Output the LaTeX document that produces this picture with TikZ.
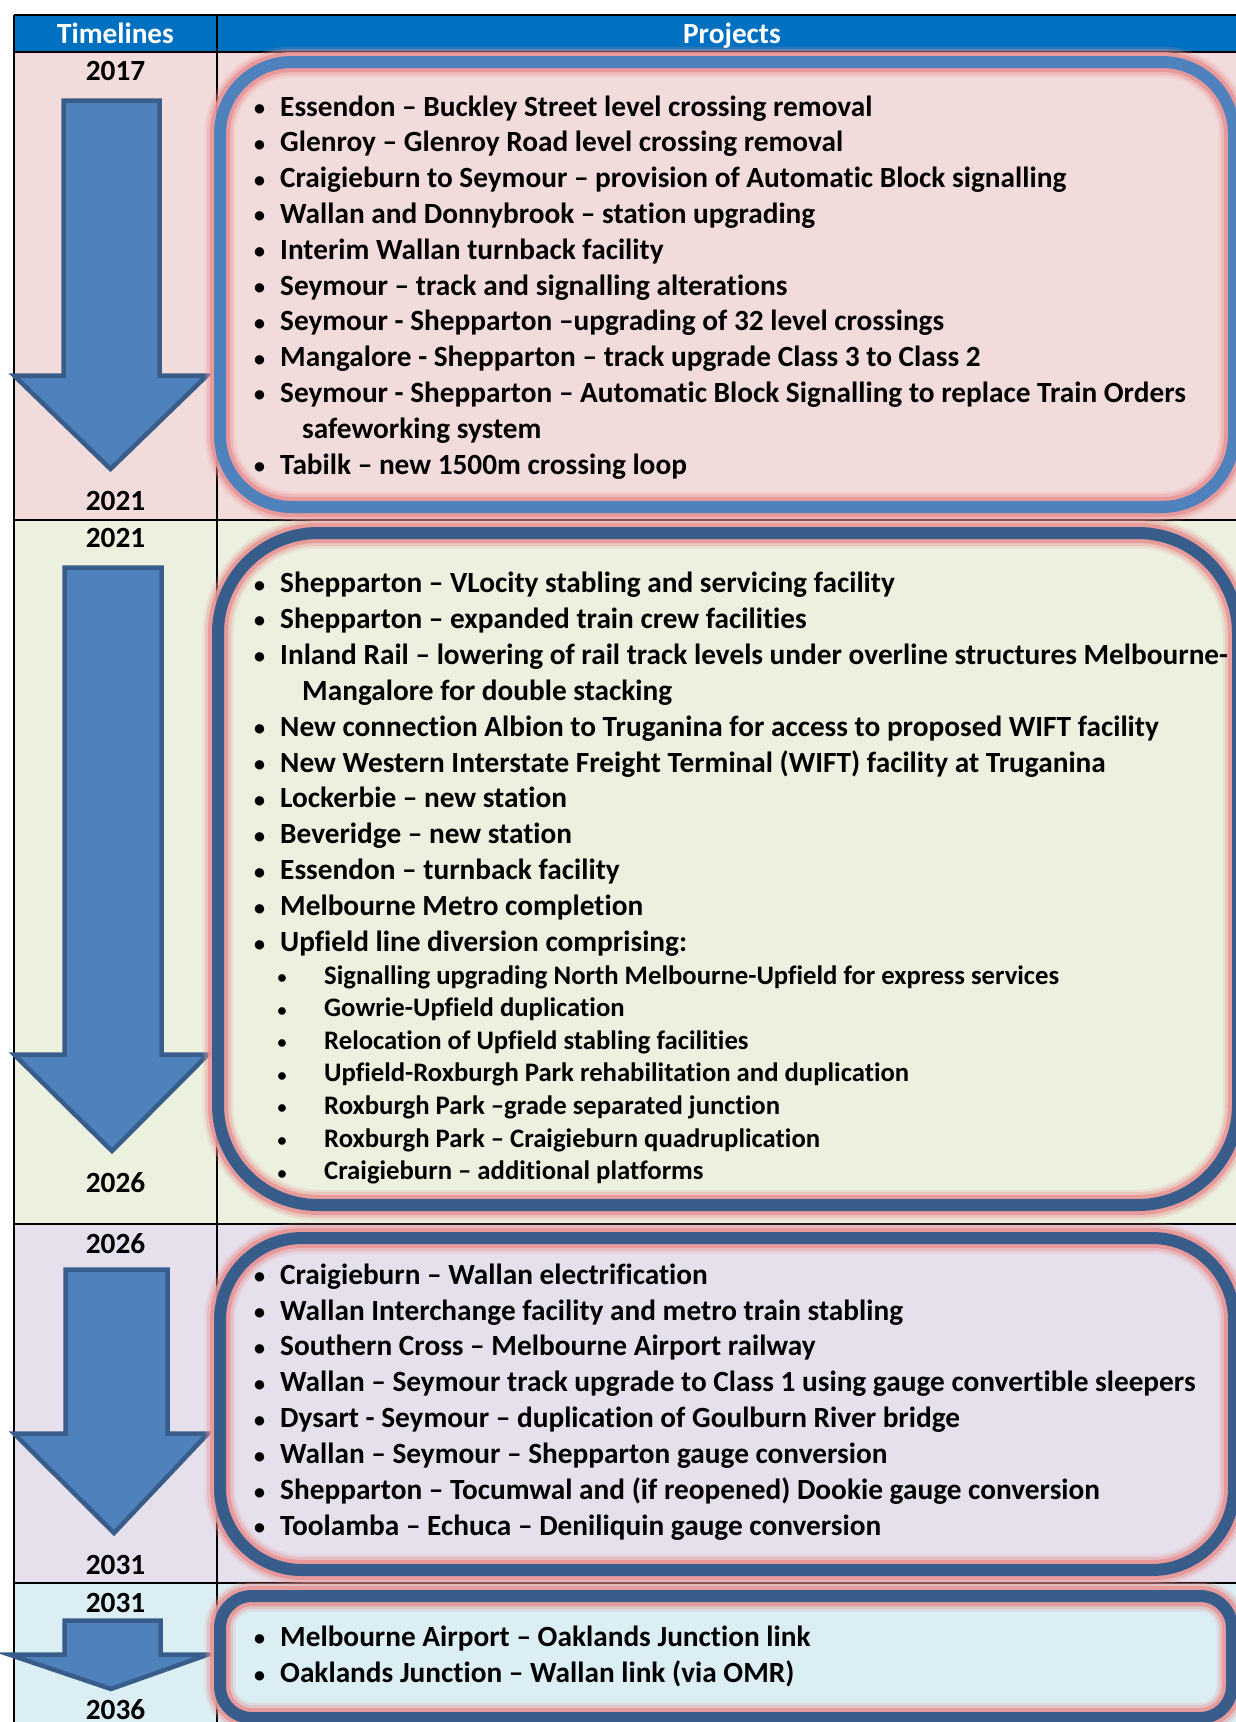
\documentclass[tikz,border=0pt]{standalone}
\usepackage{fontspec}
\setmainfont{Carlito}[Ligatures=NoCommon]
\definecolor{hdr}{HTML}{0070C0}
\definecolor{rowA}{HTML}{F2DCDB}
\definecolor{rowB}{HTML}{EBF1DE}
\definecolor{rowC}{HTML}{E5E0EC}
\definecolor{rowD}{HTML}{DBEEF3}
\definecolor{arrfill}{HTML}{4F81BD}
\definecolor{arredge}{HTML}{385D8A}
\definecolor{boxlight}{HTML}{4F81BD}
\definecolor{boxdark}{HTML}{385D8A}
\definecolor{glowpink}{RGB}{232,148,150}
\newcommand\mainfs{\fontsize{29.3}{35}\selectfont\bfseries}
\newcommand\subfs{\fontsize{26.7}{32}\selectfont\bfseries}
\newcommand\bulfs{\fontsize{22}{26}\selectfont\bfseries}
\newcommand\sbulfs{\fontsize{18}{22}\selectfont\bfseries}
\newcommand\bline[3]{\node[bul] (#1b) at (259.5,#2-0.5) {•}; \node[itm] (#1) at (280,#2) {#3};}
\newcommand\contline[3]{\node[itm] (#1) at (302,#2) {#3};}
\newcommand\sline[3]{\node[sbul] (#1b) at (282,#2-0.5) {•}; \node[sitm] (#1) at (324,#2) {#3};}
\newcommand\glowbox[2]{%
  \draw[glowpink, opacity=0.18, line width=31pt, rounded corners=#2] #1;
  \draw[glowpink, opacity=0.35, line width=26pt, rounded corners=#2] #1;
  \draw[glowpink, opacity=0.85, line width=20pt, rounded corners=#2] #1;}
\begin{document}
\begin{tikzpicture}[x=1pt,y=-1pt,
  bul/.style={anchor=base, inner sep=0pt, font=\bulfs},
  itm/.style={anchor=base west, inner sep=0pt, font=\mainfs},
  sbul/.style={anchor=base, inner sep=0pt, font=\sbulfs},
  sitm/.style={anchor=base west, inner sep=0pt, font=\subfs},
  yr/.style={anchor=base, inner sep=0pt, font=\mainfs},
  hd/.style={anchor=base, inner sep=0pt, font=\mainfs, text=white},
  arrowshape/.style={fill=arrfill, draw=arredge, line width=4.5pt, line join=miter},
  gridline/.style={draw=black, line width=2pt},
]
\useasboundingbox (0,0) rectangle (1235,1722);
\fill[white] (0,0) rectangle (1235,1722);
% rows
\fill[hdr] (14,15) rectangle (1250,52);
\fill[rowA] (14,52) rectangle (1250,520);
\fill[rowB] (14,520) rectangle (1250,1224);
\fill[rowC] (14,1224) rectangle (1250,1583);
\fill[rowD] (14,1583) rectangle (1250,1730);
% grid
\draw[gridline] (14,15) -- (1250,15);
\draw[gridline] (14,52) -- (1250,52);
\draw[gridline] (14,520) -- (1250,520);
\draw[gridline] (14,1224) -- (1250,1224);
\draw[gridline] (14,1583) -- (1250,1583);
\draw[gridline] (14,15) -- (14,1730);
\draw[gridline] (217,15) -- (217,1730);
% header
\node[hd] (thl) at (115.5,43) {Timelines};
\node[hd] (thp) at (732,43) {Projects};
% years
\node[yr] (y1a) at (115.5,80) {2017};
\node[yr] (y1b) at (115.5,510) {2021};
\node[yr] (y2a) at (115.5,547) {2021};
\node[yr] (y2b) at (115.5,1192) {2026};
\node[yr] (y3a) at (115.5,1253) {2026};
\node[yr] (y3b) at (115.5,1574) {2031};
\node[yr] (y4a) at (115.5,1612) {2031};
\node[yr] (y4b) at (115.5,1719) {2036};
% arrows
\draw[arrowshape] (63.5,100.5) -- (159.5,100.5) -- (159.5,375.5) -- (207,375.5) -- (110.5,469) -- (14,375.5) -- (63.5,375.5) -- cycle;
\draw[arrowshape] (64.5,567.5) -- (161.5,567.5) -- (161.5,1054.5) -- (208,1054.5) -- (112,1151) -- (14,1054.5) -- (64.5,1054.5) -- cycle;
\draw[arrowshape] (65.5,1269.5) -- (167.5,1269.5) -- (167.5,1433.5) -- (208,1433.5) -- (114,1533) -- (14,1433.5) -- (65.5,1433.5) -- cycle;
\draw[arrowshape] (64.5,1620.5) -- (160.5,1620.5) -- (160.5,1654.5) -- (208,1654.5) -- (111,1689) -- (9,1654.5) -- (64.5,1654.5) -- cycle;
% boxes
\glowbox{(220,62) rectangle (1234,507)}{72pt}
\draw[boxlight, line width=12pt, rounded corners=72pt] (220,62) rectangle (1234,507);
\glowbox{(218,533) rectangle (1238,1205)}{100pt}
\draw[boxdark, line width=12pt, rounded corners=100pt] (218,533) rectangle (1238,1205);
\glowbox{(220,1238) rectangle (1234,1570)}{82pt}
\draw[boxdark, line width=12pt, rounded corners=82pt] (220,1238) rectangle (1234,1570);
\glowbox{(220,1596) rectangle (1232,1718)}{32pt}
\draw[boxdark, line width=12pt, rounded corners=32pt] (220,1596) rectangle (1232,1718);
% box 1 text
\bline{a1}{116}{Essendon – Buckley Street level crossing removal}
\bline{a2}{151.8}{Glenroy – Glenroy Road level crossing removal}
\bline{a3}{187.6}{Craigieburn to Seymour – provision of Automatic Block signalling}
\bline{a4}{223.4}{Wallan and Donnybrook – station upgrading}
\bline{a5}{259.2}{Interim Wallan turnback facility}
\bline{a6}{295}{Seymour – track and signalling alterations}
\bline{a7}{330.8}{Seymour - Shepparton –upgrading of 32 level crossings}
\bline{a8}{366.6}{Mangalore - Shepparton – track upgrade Class 3 to Class 2}
\bline{a9}{402.4}{Seymour - Shepparton – Automatic Block Signalling to replace Train Orders}
\contline{a9c}{438.2}{safeworking system}
\bline{a10}{474}{Tabilk – new 1500m crossing loop}
% box 2 text
\bline{b1}{592.5}{Shepparton – VLocity stabling and servicing facility}
\bline{b2}{628.4}{Shepparton – expanded train crew facilities}
\bline{b3}{664.3}{Inland Rail – lowering of rail track levels under overline structures Melbourne-}
\contline{b3c}{700.2}{Mangalore for double stacking}
\bline{b4}{736.1}{New connection Albion to Truganina for access to proposed WIFT facility}
\bline{b5}{772}{New Western Interstate Freight Terminal (WIFT) facility at Truganina}
\bline{b6}{807.9}{Lockerbie – new station}
\bline{b7}{843.8}{Beveridge – new station}
\bline{b8}{879.7}{Essendon – turnback facility}
\bline{b9}{915.6}{Melbourne Metro completion}
\bline{b10}{951.5}{Upfield line diversion comprising:}
\sline{s1}{984}{Signalling upgrading North Melbourne-Upfield for express services}
\sline{s2}{1016.6}{Gowrie-Upfield duplication}
\sline{s3}{1049.2}{Relocation of Upfield stabling facilities}
\sline{s4}{1081.8}{Upfield-Roxburgh Park rehabilitation and duplication}
\sline{s5}{1114.4}{Roxburgh Park –grade separated junction}
\sline{s6}{1147}{Roxburgh Park – Craigieburn quadruplication}
\sline{s7}{1179.6}{Craigieburn – additional platforms}
% box 3 text
\bline{c1}{1284.1}{Craigieburn – Wallan electrification}
\bline{c2}{1320}{Wallan Interchange facility and metro train stabling}
\bline{c3}{1355.9}{Southern Cross – Melbourne Airport railway}
\bline{c4}{1391.8}{Wallan – Seymour track upgrade to Class 1 using gauge convertible sleepers}
\bline{c5}{1427.7}{Dysart - Seymour – duplication of Goulburn River bridge}
\bline{c6}{1463.6}{Wallan – Seymour – Shepparton gauge conversion}
\bline{c7}{1499.5}{Shepparton – Tocumwal and (if reopened) Dookie gauge conversion}
\bline{c8}{1535.4}{Toolamba – Echuca – Deniliquin gauge conversion}
% box 4 text
\bline{d1}{1646.4}{Melbourne Airport – Oaklands Junction link}
\bline{d2}{1682.6}{Oaklands Junction – Wallan link (via OMR)}
\end{tikzpicture}
\end{document}
